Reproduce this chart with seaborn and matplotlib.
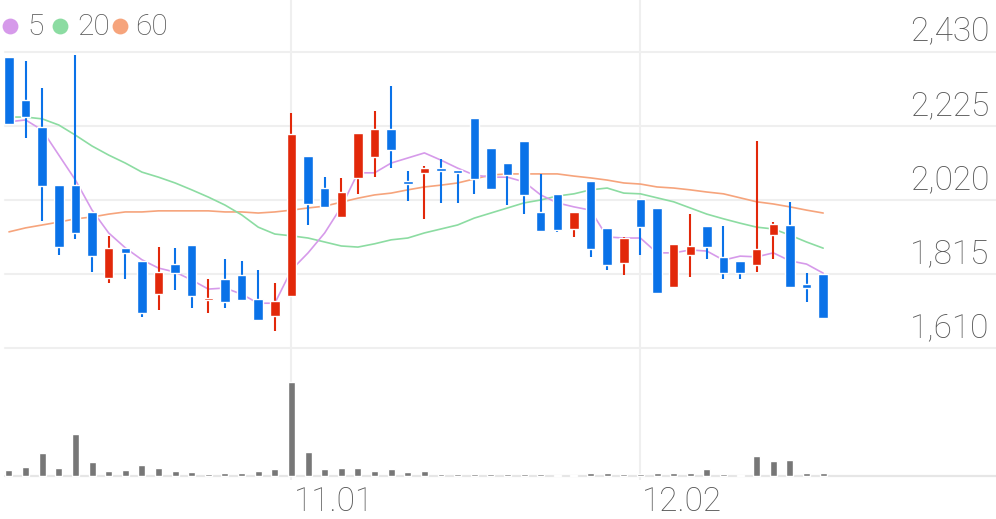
import matplotlib
matplotlib.use("Agg")
import matplotlib.pyplot as plt
import matplotlib.transforms as mtransforms
import pandas as pd
import seaborn as sns

# daily candles (oldest first)
opens = [2414, 2296, 2222, 2061, 2061, 1986, 1804, 1888, 1852, 1760,
         1843, 1896, 1745, 1802, 1813, 1747, 1700, 1755, 2142, 2054,
         1974, 2080, 2140, 2215, 2072, 2095, 2109, 2103, 2247, 2163,
         2123, 2184, 1988, 2037, 1940, 2073, 1943, 1845, 2023, 1999,
         1781, 1868, 1949, 1863, 1852, 1841, 1923, 1951, 1788, 1815]
highs = [2415, 2405, 2330, 2061, 2420, 1986, 1921, 1888, 1852, 1891,
         1887, 1896, 1801, 1856, 1852, 1827, 1790, 2261, 2142, 2084,
         2080, 2204, 2267, 2336, 2101, 2115, 2132, 2103, 2247, 2163,
         2123, 2184, 2092, 2037, 1988, 2073, 1943, 1917, 2023, 1999,
         1898, 1980, 1949, 1949, 1852, 2184, 1960, 2015, 1819, 1815]
lows = [2229, 2190, 1962, 1868, 1912, 1822, 1790, 1802, 1698, 1716,
        1771, 1723, 1707, 1723, 1744, 1689, 1658, 1755, 1951, 2000,
        1974, 2037, 2083, 2109, 2017, 1968, 2011, 2011, 2037, 2048,
        2006, 1981, 1934, 1931, 1917, 1862, 1827, 1813, 1868, 1762,
        1781, 1807, 1857, 1802, 1802, 1820, 1857, 1781, 1738, 1695]
closes = [2230, 2248, 2059, 1891, 1930, 1865, 1888, 1874, 1707, 1822,
          1818, 1755, 1749, 1739, 1744, 1689, 1742, 2202, 2009, 2000,
          2043, 2204, 2215, 2158, 2064, 2109, 2101, 2095, 2077, 2050,
          2089, 2034, 1934, 1937, 1988, 1884, 1841, 1914, 1946, 1762,
          1898, 1894, 1891, 1819, 1819, 1884, 1953, 1781, 1776, 1695]

# moving averages as drawn
ma5 = [2236, 2241, 2213, 2144, 2075, 1992, 1929, 1888, 1855, 1832,
       1821, 1799, 1774, 1777, 1760, 1735, 1735, 1827, 1874, 1929,
       2001, 2095, 2095, 2122, 2136, 2150, 2130, 2108, 2089, 2083,
       2083, 2070, 2034, 2012, 2001, 1992, 1918, 1915, 1915, 1874,
       1874, 1882, 1879, 1854, 1865, 1863, 1874, 1852, 1843, 1818]
ma20 = [2249, 2249, 2244, 2227, 2199, 2169, 2144, 2122, 2097, 2083,
        2067, 2048, 2028, 2006, 1979, 1945, 1926, 1921, 1915, 1904,
        1893, 1890, 1899, 1910, 1915, 1929, 1940, 1951, 1970, 1984,
        1998, 2012, 2020, 2031, 2037, 2048, 2053, 2039, 2037, 2026,
        2015, 1998, 1981, 1968, 1956, 1945, 1940, 1923, 1904, 1887]
ma60 = [1932, 1943, 1951, 1959, 1968, 1973, 1981, 1987, 1987, 1990,
        1990, 1990, 1990, 1987, 1987, 1984, 1987, 1992, 1998, 2003,
        2014, 2025, 2034, 2039, 2048, 2056, 2061, 2067, 2078, 2089,
        2092, 2092, 2092, 2092, 2086, 2081, 2075, 2067, 2064, 2056,
        2053, 2048, 2042, 2037, 2026, 2015, 2009, 2001, 1992, 1984]

# volume, thousand shares
volume = [60, 90, 230, 80, 420, 140, 50, 60, 110, 80,
          50, 40, 20, 30, 30, 50, 70, 940, 240, 75,
          80, 80, 50, 70, 40, 50, 25, 20, 20, 20,
          20, 20, 20, 15, 15, 30, 30, 20, 20, 30,
          30, 30, 70, 20, 15, 200, 150, 160, 35, 35]

date_labels = ["11.01", "12.02"]
date_idx = [17, 38]
price_ticks = [1610, 1815, 2020, 2225, 2430]
ma_names = ["5", "20", "60"]

BLUE = "#0a72e8"
RED = "#e2280a"
GRID = "#efefef"
TXT = "#575757"
MA_COLORS = ["#d69aea", "#8cdca2", "#f6a47c"]

sns.set_style("white")
plt.rcParams["font.family"] = ["Roboto", "DejaVu Sans"]

df = pd.DataFrame({"idx": range(len(closes)), "open": opens, "high": highs,
                   "low": lows, "close": closes, "ma5": ma5, "ma20": ma20,
                   "ma60": ma60, "volume": volume})
df["color"] = [RED if c >= o else BLUE for o, c in zip(df.open, df.close)]
df["body_lo"] = df[["open", "close"]].min(axis=1)
df["body_h"] = (df.close - df.open).abs().clip(lower=4)

W, H = 996, 519
fig = plt.figure(figsize=(W / 100, H / 100), dpi=100)
ax = fig.add_axes([0, 1 - 360 / H, 1, 360 / H])
axv = fig.add_axes([0, 1 - 480 / H, 1, 120 / H])

# grid
for p in price_ticks:
    ax.axhline(p, color=GRID, lw=1.5, xmin=0.005, zorder=0)
for i in date_idx:
    ax.axvline(i, color=GRID, lw=1.5, zorder=0)
    axv.axvline(i, color=GRID, lw=1.5, zorder=0)
axv.axhline(0, color="#e6e6e6", lw=1.6, xmin=0.005, zorder=0)

# moving averages
for col, c in zip(["ma60", "ma20", "ma5"], MA_COLORS[::-1]):
    sns.lineplot(data=df, x="idx", y=col, color=c, lw=1.2, ax=ax, zorder=2)

# candles
ax.vlines(df.idx, df.low, df.high, colors=df.color, lw=1.5, zorder=3)
ax.bar(df.idx, df.body_h, bottom=df.body_lo, width=0.57, color=df.color,
       zorder=4)

# volume
axv.bar(df.idx, df.volume, width=0.42, color="#777777", zorder=2)

for a in (ax, axv):
    a.set_xlim(-0.54, 59.4)
    a.set_xticks([])
    a.set_yticks([])
    a.set_xlabel("")
    a.set_ylabel("")
    sns.despine(ax=a, left=True, bottom=True)
ax.set_ylim(1578.2, 2572.2)
axv.set_ylim(-40, 1160)

# price labels
ytr = mtransforms.offset_copy(ax.get_yaxis_transform(), fig=fig, y=11, units="dots")
for p in price_ticks:
    ax.text(0.993, p, f"{p:,}", transform=ytr, ha="right", va="baseline",
            fontsize=24, color=TXT, fontweight="light")

# date labels
xtr = mtransforms.offset_copy(axv.get_xaxis_transform(), fig=fig, x=2, y=-31, units="dots")
for i, lab in zip(date_idx, date_labels):
    axv.text(i, 0, lab, transform=xtr, ha="left", va="baseline",
             fontsize=24, color=TXT, fontweight="light")

# legend
for cx, tx, name, c in zip([10, 60, 120], [27, 77, 135], ma_names, MA_COLORS):
    ax.scatter([cx / W], [1 - 26 / 360], s=130, color=c, transform=ax.transAxes,
               clip_on=False, zorder=5, linewidths=0)
    ax.text(tx / W, 1 - 35 / 360, name, transform=ax.transAxes, ha="left",
            va="baseline", fontsize=21.5, color=TXT, fontweight="light")

fig.savefig("out.png", dpi=100)
